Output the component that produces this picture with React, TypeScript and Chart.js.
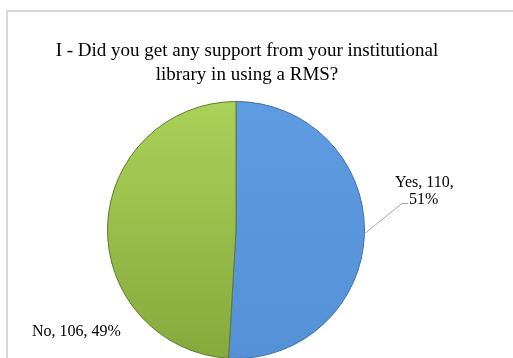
import React, { useEffect, useRef } from "react";
import { Chart, registerables } from "chart.js";

Chart.register(...registerables);

const categories = ["Yes", "No"];
const counts = [110, 106];
const percents = ["51%", "49%"];
const titleLines = [
  "I - Did you get any support from your institutional",
  "library in using a RMS?",
];

const FONT = '"Liberation Serif", "Times New Roman", serif';

const overlayPlugin = {
  id: "overlay",
  afterDraw(chart: any) {
    const ctx = chart.ctx as CanvasRenderingContext2D;
    ctx.save();
    // title
    ctx.fillStyle = "#000";
    ctx.font = `19px ${FONT}`;
    ctx.textAlign = "center";
    ctx.textBaseline = "alphabetic";
    ctx.fillText(titleLines[0], 247, 56);
    ctx.fillText(titleLines[1], 247, 80);

    // leader line for Yes
    const arc = chart.getDatasetMeta(0).data[0];
    const p = arc.getProps(["x", "y", "startAngle", "endAngle", "outerRadius"], true);
    const mid = (p.startAngle + p.endAngle) / 2;
    const sx = p.x + Math.cos(mid) * p.outerRadius;
    const sy = p.y + Math.sin(mid) * p.outerRadius;
    ctx.strokeStyle = "#a6a6a6";
    ctx.lineWidth = 1;
    ctx.beginPath();
    ctx.moveTo(sx, sy);
    ctx.lineTo(402, 203.5);
    ctx.lineTo(408, 203.5);
    ctx.stroke();

    ctx.font = `16px ${FONT}`;
    ctx.textAlign = "left";
    ctx.fillStyle = "#000";
    ctx.fillText(`${categories[0]}, ${counts[0]},`, 395, 187);
    ctx.fillText(percents[0], 409, 204);
    ctx.fillText(`${categories[1]}, ${counts[1]}, ${percents[1]}`, 32, 336);
    ctx.restore();
  },
};

export default function App() {
  const ref = useRef<HTMLCanvasElement>(null);
  useEffect(() => {
    if (!ref.current) return;
    const chart = new Chart(ref.current, {
      type: "pie",
      data: {
        labels: categories,
        datasets: [
          {
            data: counts,
            backgroundColor: (c: any) => {
              const ch = c.chart;
              const area = ch.chartArea;
              if (!area) return c.dataIndex === 0 ? "#5a96dc" : "#9bbf4d";
              const g = ch.ctx.createLinearGradient(0, area.top, 0, area.bottom);
              if (c.dataIndex === 0) {
                g.addColorStop(0, "#5e9be0");
                g.addColorStop(1, "#5591d6");
              } else {
                g.addColorStop(0, "#abd158");
                g.addColorStop(1, "#86a93c");
              }
              return g;
            },
            borderColor: ["#3f70a8", "#5f7a2c"],
            borderWidth: 1,
          },
        ],
      },
      options: {
        responsive: false,
        animation: false,
        devicePixelRatio: 1,
        layout: { padding: { left: 107, right: 148, top: 101, bottom: 41 } },
        plugins: {
          legend: { display: false },
          tooltip: { enabled: false },
          title: { display: false },
        },
      },
      plugins: [overlayPlugin],
    });
    return () => chart.destroy();
  }, []);

  return (
    <div
      style={{
        position: "fixed",
        left: 0,
        top: 0,
        width: 513,
        height: 358,
        overflow: "hidden",
        background: "#fff",
      }}
    >
      <div
        style={{
          position: "absolute",
          left: 6,
          top: 10,
          width: 600,
          height: 500,
          border: "2px solid #d9d9d9",
          boxSizing: "border-box",
        }}
      />
      <canvas
        ref={ref}
        width={513}
        height={400}
        style={{ position: "absolute", left: 0, top: 0, width: 513, height: 400 }}
      />
    </div>
  );
}
